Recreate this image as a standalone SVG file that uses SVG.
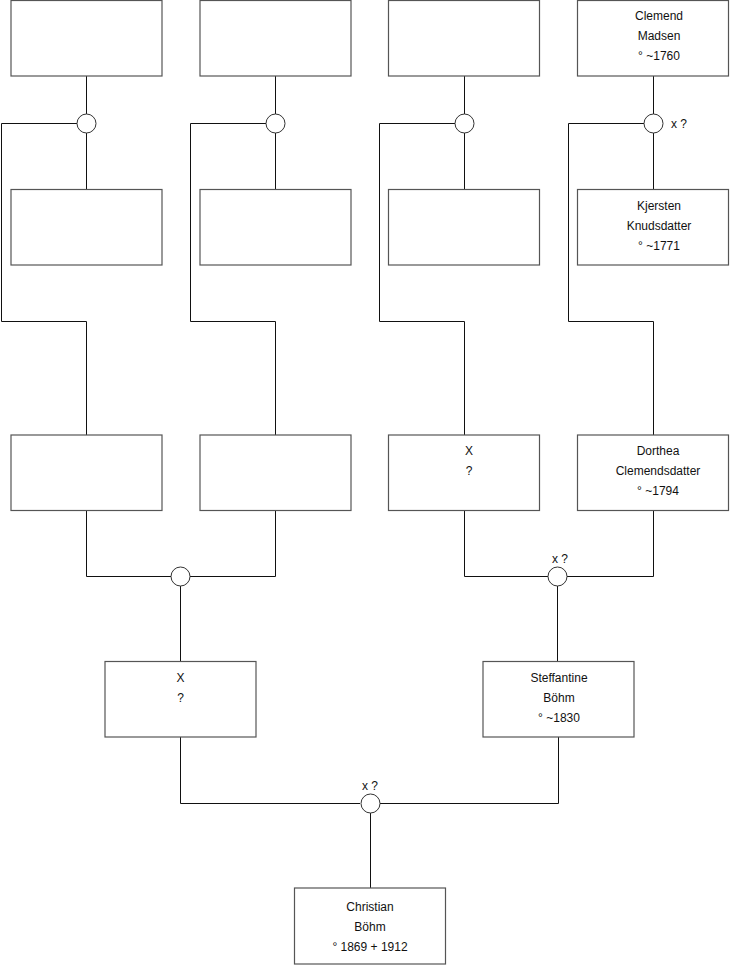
<svg xmlns="http://www.w3.org/2000/svg" width="740" height="975" viewBox="0 0 740 975">
<style>
.box{fill:#fff;stroke:#555;stroke-width:1.2}
.c{fill:#fff;stroke:#333;stroke-width:1}
.ln{fill:none;stroke:#111;stroke-width:1}
text{font-family:"Liberation Sans",Arial,sans-serif;font-size:12px;fill:#111;text-anchor:middle}
</style>
<rect width="740" height="975" fill="#fff"/>
<g id="connectors">
<path class="ln" d="M86.5,76V114M86.5,133V189M77,123.5H1.5V321.5H86.5V435"/>
<path class="ln" d="M275.5,76V114M275.5,133V189M266,123.5H190.5V321.5H275.5V435"/>
<path class="ln" d="M464.5,76V114M464.5,133V189M455,123.5H379.5V321.5H464.5V435"/>
<path class="ln" d="M653.5,76V114M653.5,133V189M644,123.5H568.5V321.5H653.5V435"/>
<path class="ln" d="M86.5,510V576.5H171M190,576.5H275.5V510M180.5,586V661"/>
<path class="ln" d="M464.5,510V576.5H548M567,576.5H653.5V510M557.5,586V661"/>
<path class="ln" d="M180.5,737V803.5H360M380,803.5H558.5V737M370.5,813V888"/>
</g>
<g id="u1"><circle class="c" cx="86.5" cy="123.5" r="9.5"/></g>
<g id="u2"><circle class="c" cx="275.5" cy="123.5" r="9.5"/></g>
<g id="u3"><circle class="c" cx="464.5" cy="123.5" r="9.5"/></g>
<g id="u4"><circle class="c" cx="653.5" cy="123.5" r="9.5"/><text x="679" y="128">x ?</text></g>
<g id="u5"><circle class="c" cx="180.5" cy="576.5" r="9.5"/></g>
<g id="u6"><circle class="c" cx="557.5" cy="576.5" r="9.5"/><text x="560" y="563">x ?</text></g>
<g id="u7"><circle class="c" cx="370.5" cy="803.5" r="9.5"/><text x="370" y="790">x ?</text></g>
<g id="p1"><rect class="box" x="11" y="0.5" width="151" height="75.5"/></g>
<g id="p2"><rect class="box" x="200" y="0.5" width="151" height="75.5"/></g>
<g id="p3"><rect class="box" x="388.5" y="0.5" width="151" height="75.5"/></g>
<g id="p4"><rect class="box" x="577.5" y="0.5" width="151" height="75.5"/>
<text x="659" y="20">Clemend</text><text x="659" y="40">Madsen</text><text x="659" y="60">° ~1760</text></g>
<g id="p5"><rect class="box" x="11" y="189.5" width="151" height="75.5"/></g>
<g id="p6"><rect class="box" x="200" y="189.5" width="151" height="75.5"/></g>
<g id="p7"><rect class="box" x="388.5" y="189.5" width="151" height="75.5"/></g>
<g id="p8"><rect class="box" x="577.5" y="189.5" width="151" height="75.5"/>
<text x="659" y="210">Kjersten</text><text x="659" y="230">Knudsdatter</text><text x="659" y="250">° ~1771</text></g>
<g id="p9"><rect class="box" x="11" y="435" width="151" height="75.5"/></g>
<g id="p10"><rect class="box" x="200" y="435" width="151" height="75.5"/></g>
<g id="p11"><rect class="box" x="388.5" y="435" width="151" height="75.5"/>
<text x="469" y="455">X</text><text x="469" y="475">?</text></g>
<g id="p12"><rect class="box" x="577.5" y="435" width="151" height="75.5"/>
<text x="658" y="455">Dorthea</text><text x="658" y="475">Clemendsdatter</text><text x="658" y="495">° ~1794</text></g>
<g id="p13"><rect class="box" x="105" y="661.5" width="151" height="75.5"/>
<text x="180.5" y="682">X</text><text x="180.5" y="702">?</text></g>
<g id="p14"><rect class="box" x="483" y="661.5" width="151" height="75.5"/>
<text x="559" y="682">Steffantine</text><text x="559" y="702">Böhm</text><text x="559" y="722">° ~1830</text></g>
<g id="p15"><rect class="box" x="294.5" y="888" width="151" height="76"/>
<text x="370" y="911">Christian</text><text x="370" y="931">Böhm</text><text x="370" y="951">° 1869 + 1912</text></g>
</svg>
